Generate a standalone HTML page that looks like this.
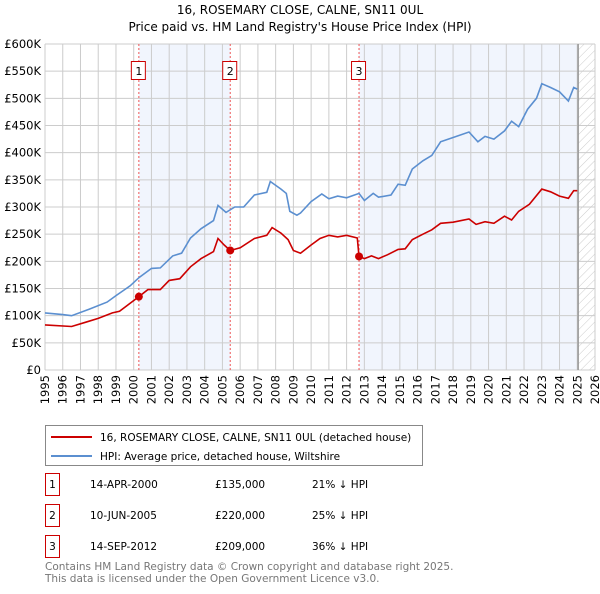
<!DOCTYPE html>
<html><head><meta charset="utf-8"><style>
body{margin:0;background:#fff;font-family:"DejaVu Sans","Liberation Sans",sans-serif;}
svg text{font-family:"DejaVu Sans","Liberation Sans",sans-serif;}
</style></head><body>
<svg id="chart" width="600" height="590" xmlns="http://www.w3.org/2000/svg">
<defs><pattern id="hatch" width="6" height="6" patternUnits="userSpaceOnUse" patternTransform="rotate(45)"><line x1="0" y1="0" x2="0" y2="6" stroke="#ccc" stroke-width="1"/></pattern></defs>
<text x="300" y="14" text-anchor="middle" font-size="12">16, ROSEMARY CLOSE, CALNE, SN11 0UL</text>
<text x="300" y="31" text-anchor="middle" font-size="12">Price paid vs. HM Land Registry's House Price Index (HPI)</text>
<g id="plot"></g>
<g>
<rect x="45.5" y="425.5" width="377" height="40" fill="#fff" stroke="#888"/>
<line x1="51" y1="437" x2="92" y2="437" stroke="#cc0000" stroke-width="2"/>
<text x="100" y="441" font-size="10.5">16, ROSEMARY CLOSE, CALNE, SN11 0UL (detached house)</text>
<line x1="51" y1="456" x2="92" y2="456" stroke="#5b8fd0" stroke-width="2"/>
<text x="100" y="460" font-size="10.5">HPI: Average price, detached house, Wiltshire</text>
</g>
<g id="table" font-size="10.5"></g>
<text x="45" y="570" font-size="10.5" fill="#777">Contains HM Land Registry data © Crown copyright and database right 2025.</text>
<text x="45" y="582" font-size="10.5" fill="#777">This data is licensed under the Open Government Licence v3.0.</text>
</svg>
<script>
const yTicks=[0,50,100,150,200,250,300,350,400,450,500,550,600];
const yLabels=["£0","£50K","£100K","£150K","£200K","£250K","£300K","£350K","£400K","£450K","£500K","£550K","£600K"];
const xYears=[1995,1996,1997,1998,1999,2000,2001,2002,2003,2004,2005,2006,2007,2008,2009,2010,2011,2012,2013,2014,2015,2016,2017,2018,2019,2020,2021,2022,2023,2024,2025,2026];
const hpiT=[1995,1996,1996.5,1997.5,1998.5,1999,1999.8,2000.3,2001,2001.5,2002.2,2002.7,2003.2,2003.8,2004.5,2004.75,2005.2,2005.7,2006.2,2006.8,2007.5,2007.7,2008.3,2008.6,2008.8,2009.2,2009.4,2010,2010.6,2011,2011.5,2012,2012.7,2013,2013.5,2013.8,2014.5,2014.9,2015.3,2015.7,2016.3,2016.8,2017.3,2018,2018.9,2019.4,2019.8,2020.3,2020.9,2021.3,2021.7,2022.2,2022.7,2023,2023.5,2024,2024.5,2024.8,2025];
const hpiV=[105,102,100,112,125,137,155,170,187,188,210,215,243,260,275,303,290,300,300,322,327,347,333,325,292,285,289,310,324,315,320,317,325,312,325,318,322,342,340,370,385,395,420,428,438,420,430,425,440,458,448,480,500,527,520,512,495,520,517];
const ppT=[1995,1996.5,1997.3,1998,1998.8,1999.2,2000.29,2000.8,2001.5,2002,2002.6,2003.2,2003.8,2004.5,2004.75,2005.1,2005.44,2006,2006.8,2007.5,2007.8,2008.3,2008.7,2009,2009.4,2010,2010.5,2011,2011.5,2012,2012.6,2012.7,2013,2013.4,2013.8,2014.3,2014.9,2015.3,2015.7,2016.3,2016.8,2017.3,2018,2018.9,2019.3,2019.8,2020.3,2020.9,2021.3,2021.7,2022.3,2023,2023.5,2024,2024.5,2024.8,2025];
const ppV=[83,80,88,95,105,108,135,148,148,165,168,190,205,218,242,230,220,225,242,248,262,252,240,220,215,230,242,248,245,248,243,209,205,210,205,212,222,223,240,250,258,270,272,278,268,273,270,283,276,292,305,333,328,320,316,330,330];
const saleT=[2000.29,2005.44,2012.7];
const saleV=[135,220,209];
const saleLabels=["1","2","3"];
const saleDates=["14-APR-2000","10-JUN-2005","14-SEP-2012"];
const salePrices=["£135,000","£220,000","£209,000"];
const salePct=["21% ↓ HPI","25% ↓ HPI","36% ↓ HPI"];
const X0=45,X1=595,Y0=370,Y1=44;
const xs=t=>X0+(t-1995)*(X1-X0)/31;
const ys=v=>Y0-v*(Y0-Y1)/600;
const NS="http://www.w3.org/2000/svg";
const plot=document.getElementById('plot');
function mk(tag,attrs,parent){const e=document.createElementNS(NS,tag);for(const k in attrs)e.setAttribute(k,attrs[k]);(parent||plot).appendChild(e);return e;}
// shading
let r=mk('rect',{x:xs(saleT[0]),y:Y1,width:xs(saleT[1])-xs(saleT[0]),height:Y0-Y1,fill:'#eef2fc',opacity:0.8});


r=mk('rect',{x:xs(saleT[2]),y:Y1,width:xs(2025.05)-xs(saleT[2]),height:Y0-Y1,fill:'#eef2fc',opacity:0.8});


r=mk('rect',{x:xs(2025.05),y:Y1,width:X1-xs(2025.05),height:Y0-Y1,fill:'url(#hatch)'});


// grid
yTicks.forEach((v,i)=>{
 const l=mk('line',{x1:X0,x2:X1,y1:ys(v),y2:ys(v),stroke:'#ccc','stroke-width':1});
 
 
 const t=mk('text',{x:X0-4,y:ys(v)+4,'text-anchor':'end','font-size':'11.5'});
 t.textContent=yLabels[i];
 
 
});
xYears.forEach(y=>{
 const l=mk('line',{x1:xs(y),x2:xs(y),y1:Y1,y2:Y0,stroke:'#ccc','stroke-width':1});
 
 
 const t=mk('text',{transform:`translate(${xs(y)+4},375) rotate(-90)`,'text-anchor':'end','font-size':'11.5'});
 t.textContent=y;
 
 
});
let l=mk('line',{x1:xs(2025.05),x2:xs(2025.05),y1:Y1,y2:Y0,stroke:'#999','stroke-width':1.5});


// sale lines
saleT.forEach((t,i)=>{
 const d=mk('line',{x1:xs(t),x2:xs(t),y1:Y1,y2:Y0,stroke:'#e55','stroke-width':1,'stroke-dasharray':'2,2'});
 
 
});
function path(T,V,color,name){
 const p=mk('path',{d:T.map((t,i)=>(i?'L':'M')+xs(t).toFixed(1)+','+ys(V[i]).toFixed(1)).join(''),fill:'none',stroke:color,'stroke-width':1.6});
 
 
}
path(hpiT,hpiV,'#5b8fd0','hpi-line');
path(ppT,ppV,'#cc0000','price-paid-line');
saleT.forEach((t,i)=>{
 const c=mk('circle',{cx:xs(t),cy:ys(saleV[i]),r:4,fill:'#cc0000'});
 
 
 const b=mk('rect',{x:xs(t)-7.5,y:61.5,width:14,height:18,fill:'#fff',stroke:'#cc0000'});
 
 
 const tx=mk('text',{x:xs(t),y:75,'text-anchor':'middle','font-size':'11'});
 tx.textContent=saleLabels[i];
 
 
});
const tb=document.getElementById('table');
saleLabels.forEach((s,i)=>{
 const y=483+i*31;
 const b=mk('rect',{x:45.5,y:y-9.5,width:14,height:22,fill:'#fff',stroke:'#cc0000'},tb);
 
 
 const cols=[[52.5,s,'middle'],[90,saleDates[i],'start'],[215,salePrices[i],'start'],[312,salePct[i],'start']];
 cols.forEach(c=>{
  const t=mk('text',{x:c[0],y:y+5,'text-anchor':c[2]},tb);
  t.textContent=c[1];
  
  
 });
});
</script>
</body></html>
